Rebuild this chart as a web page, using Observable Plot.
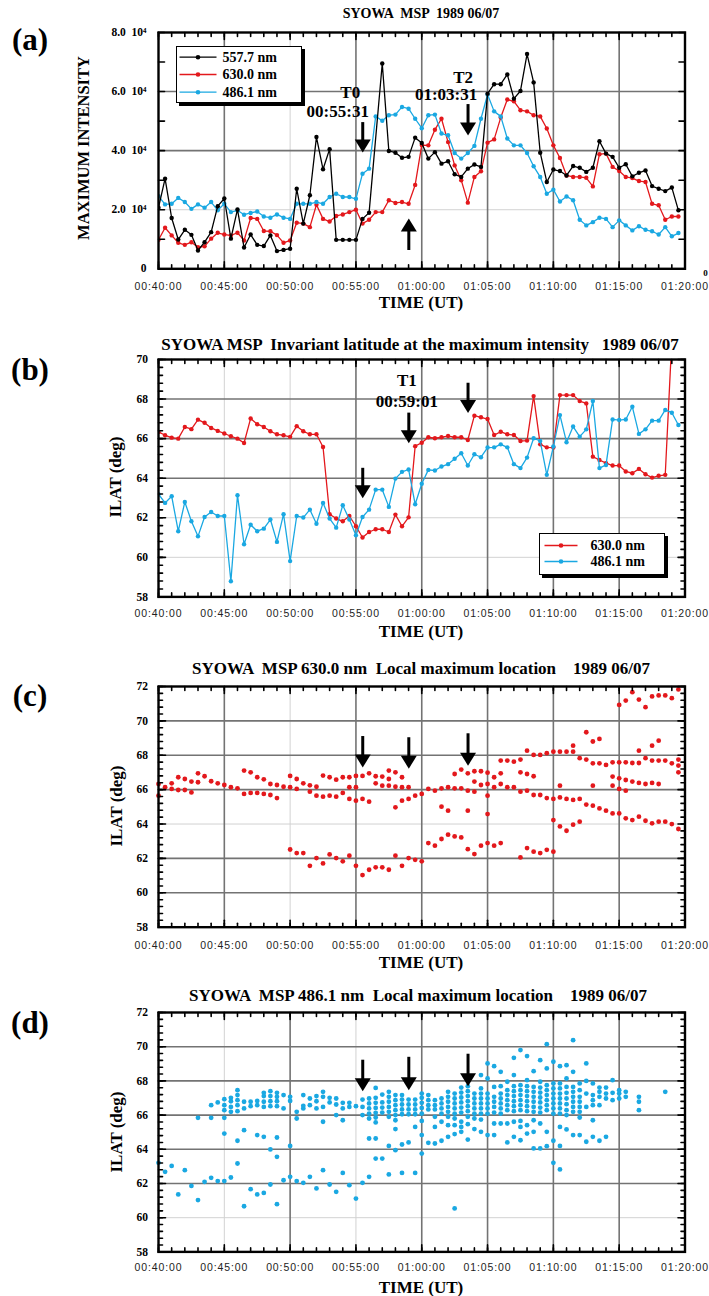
<!DOCTYPE html>
<html>
<head>
<meta charset="utf-8">
<script src="https://cdn.jsdelivr.net/npm/d3@7"></script>
<script src="https://cdn.jsdelivr.net/npm/@observablehq/plot@0.6"></script>
<style>
html,body{margin:0;padding:0;background:#fff;overflow:hidden;}
#root{position:relative;width:709px;height:1296px;overflow:hidden;background:#fff;}
.panel{position:absolute;left:0;}
.panel svg{background:transparent !important;overflow:visible;}
.t{position:absolute;transform:translate(-50%,-50%);white-space:pre;font-family:"Liberation Serif","Times New Roman",serif;font-weight:bold;color:#000;line-height:1;}
.rot{transform:translate(-50%,-50%) rotate(-90deg);}
g[aria-label="x-axis tick label"] text{font-family:"Liberation Sans",Arial,sans-serif;font-size:10.5px;letter-spacing:0.9px;fill:#222;font-weight:normal;}
g[aria-label="y-axis tick label"] text{font-family:"Liberation Serif","Times New Roman",serif;font-weight:bold;font-size:11.5px;fill:#000;}
.legend{position:absolute;box-sizing:border-box;background:#fff;border:1.5px solid #000;box-shadow:3px 3px 0 #000;}
</style>
</head>
<body>
<div id="root"></div>
<script>
// ---------------- DATA ----------------
// MSP scans every 30 s starting at 00:40:00 UT, 1989-06-07 (Syowa)
const scanStart = "00:40:00";
const scanCadenceSec = 30;

// (a) maximum intensity per scan (null = no marker visible)
const i5577 = [20700,30500,17200,9900,13200,11500,6200,9000,12400,21200,
  23800,10200,20100,7200,11600,8100,7700,11300,6000,6400,
  6800,27100,15300,24900,44600,33700,40500,9800,9800,9800,
  9800,16900,19000,null,69500,39900,39300,37600,37900,44400,
  42600,37300,39500,35600,36400,32000,31100,33900,35300,34500,
  59300,62500,62500,65800,57600,60200,72700,63100,39300,29400,
  33600,33100,31600,34800,34200,32800,34200,43200,39000,37900,
  34200,35400,31300,32500,33300,28000,27100,26300,27500,19800];
const i6300 = [9800,13900,11300,8800,8100,9000,7300,7600,10200,12200,
  11600,11300,12200,9600,17200,16900,12800,12700,11400,8800,
  9600,15600,15300,14100,21700,16900,16000,17900,18400,19200,
  20000,15300,16600,19200,19200,23200,22300,22600,22000,28400,
  41900,41800,47100,50800,42900,35000,30000,22400,31100,33000,
  42700,43800,51200,57300,56700,53700,53300,52000,51600,47500,
  41800,37500,31600,31100,31100,30800,27900,38800,39000,34500,
  33100,31100,30700,29700,29400,22000,21500,16600,17700,17700];
const i4861 = [24600,21800,22000,24000,22600,20300,21800,20700,22600,19800,
  22000,19200,19800,18300,18900,19400,17700,17300,18400,17300,
  16900,22000,22000,22000,22600,22000,24300,25400,24300,24300,
  23700,32200,33900,51600,50100,52000,52200,54800,54200,50800,
  47600,52000,52200,45800,45200,39200,37300,39200,41600,50800,
  59000,53300,51600,44100,41800,41800,39200,34700,31100,25400,
  26800,22800,24500,23200,16600,14700,15800,17300,16900,14100,
  16400,14700,13000,14400,13200,12700,11600,14100,11000,12100];

// (b) invariant latitude (deg) at the maximum intensity
const lat6300 = [66.34,66.17,66.05,66.00,66.59,66.48,66.96,66.80,66.54,66.39,
  66.26,66.12,66.00,65.78,67.02,66.73,66.59,66.37,66.22,66.17,
  66.09,66.63,66.37,66.22,66.22,65.58,62.18,61.96,61.82,62.09,
  61.57,61.00,61.28,61.42,61.42,61.28,62.16,61.57,62.02,65.62,
  65.79,66.07,66.02,66.07,66.13,66.07,66.07,65.93,67.16,67.08,
  66.99,66.18,66.35,66.22,66.18,65.88,65.90,68.15,65.71,65.56,
  65.55,68.20,68.20,68.20,67.90,67.78,65.09,64.92,64.76,64.64,
  64.64,64.34,64.25,64.47,64.20,64.03,64.12,64.17,71.0];
const lat4861 = [63.19,62.75,63.09,61.32,62.80,61.82,61.06,62.04,62.29,62.09,
  62.09,58.79,63.14,60.66,61.65,61.32,61.45,61.91,60.78,62.18,
  59.81,62.09,62.01,62.41,61.70,62.75,61.96,61.50,62.63,61.91,
  61.11,62.04,62.41,63.42,63.42,62.55,63.98,64.32,64.44,62.68,
  63.72,64.42,64.39,64.59,64.71,64.98,65.26,64.64,65.21,65.06,
  65.55,65.56,65.71,65.56,64.71,64.51,65.04,66.02,65.88,64.17,
  65.60,67.19,65.82,66.61,66.10,66.47,67.90,64.51,64.67,66.97,
  66.94,66.97,67.61,66.24,66.47,66.91,66.91,67.45,67.31,66.69];

// (c) 630.0 nm local maximum locations (ILAT deg), one list per scan
const loc6300 = [
  [66.33,65.65],[66.14],[66.37,66.04],[66.72,65.98],[66.62,65.98],[66.47,65.84],[66.95,66.43],[66.78],[66.49],[66.37],
  [66.27],[66.14],[66.08],[67.11,65.75],[67.01,65.81],[66.72,65.81],[66.60,65.75],[66.33,65.69],[66.27,65.51],[66.17],
  [66.80,66.14,62.52],[66.62,66.04,62.31],[66.37,62.31],[66.25,65.88,61.57],[66.17,65.65,62.02],[66.82,65.59,61.71],[66.72,65.65,62.23],[66.58,65.59,62.02],[66.72,65.81,61.83],[66.72,66.14,65.46,62.16],
  [66.80,66.14,65.36,61.57],[66.80,65.46,61.03],[66.95,65.30,61.34],[66.78,66.37,61.48],[66.76,66.23,61.48],[67.11,66.62,66.23,61.34],[67.01,66.17,64.97,62.16],[66.72,66.14,65.36,61.57],[66.14,65.46,62.02],[65.65,61.92],
  [65.75,61.83],[66.04,62.89],[65.94,62.74],[66.08,65.01,63.13],[66.14,64.78,63.38],[66.91,66.08,63.28],[67.17,66.08,63.22],[66.95,65.94,64.78,62.54],[67.07,66.47,65.88,62.25],[67.07,66.27,62.74],
  [66.99,66.33,65.65,64.58,62.89],[66.72,66.14,62.74],[67.69,66.95,66.33,62.89],[67.69,66.14],[67.63,66.14],[67.75,67.01,65.88,62.06],[68.27,66.91,65.94,62.60],[68.02,66.78,65.69,62.39],[68.02,65.69,62.31],[68.12,65.51,62.50],
  [68.21,65.46,64.23,62.39],[68.21,66.23,65.55,63.86],[68.21,65.46,63.61],[68.56,68.21,65.40,63.96],[67.83,65.46,64.14],[69.34,67.75,65.13],[68.80,67.53,66.23,65.07],[68.95,67.53,64.91],[67.44,64.78],[67.59,66.76,66.23,64.62],
  [70.93,67.59,66.66,66.04,64.62],[71.18,67.59,66.56,65.94,64.33],[71.67,67.55,66.47,64.23],[71.24,68.27,67.55,66.39,64.43],[70.80,67.83,66.33,64.19],[71.42,68.56,67.69,66.39,64.04],[71.48,68.85,67.69,66.33,64.14],[71.48,67.69,64.14],[71.32,67.53,64.00],[71.83,67.75,67.40,67.01,63.71]
];

// (d) 486.1 nm local maximum locations (ILAT deg), one list per scan
const loc4861 = [
  [63.21],[62.68],[63.03],[61.36],[62.78],[61.86],[61.03,65.84],[62.10],[62.33,65.84,66.58],[62.14,66.74],
  [62.14,64.92,65.84,66.29,66.58,66.93],[62.35,66.19,66.48,66.81,67.01],[63.17,64.50,66.23,66.58,66.87,67.17,67.46],[60.67,65.12,66.39,66.78],[61.67,66.52,66.78],[61.36,64.83,66.58,66.83],[61.45,64.73,66.48,66.78,67.11,67.30],[61.94,63.99,66.52,66.81,67.11,67.40],[60.79,63.56,64.69,66.52,66.81,67.07,67.30],[62.19,66.39,67.17],
  [62.39,64.20,66.83,67.07],[62.14,65.80,66.19],[62.04,66.39,66.54,67.17],[62.39,66.58,66.97],[61.71,66.39,66.81,67.11],[62.78,65.61,66.48,67.07,67.36],[61.94,66.74,67.01],[61.51,66.00,66.62,66.97],[62.62,65.70,66.39,66.72],[61.90,66.48,66.72],
  [61.12,66.52],[62.04,66.00,66.48,66.91],[62.39,64.63,65.80,66.09,66.39,66.68,66.97],[63.46,64.63,65.57,65.86,66.13,66.42,66.72,67.01,67.59],[63.46,66.15,66.44,66.74,67.20],[62.53,64.20,65.90,66.19,66.48,66.78,67.07,67.36],[63.95,65.18,65.70,66.00,66.29,66.58,66.87,67.17],[62.62,64.28,66.05,66.33,66.62,66.91,67.17],[64.40,66.05,66.33,66.62,66.91],[62.62,65.31,66.05,66.33,66.62,66.91],
  [63.75,64.83,65.66,66.09,66.42,66.72,67.01,67.26],[64.38,66.33,66.58,66.87,67.17],[64.34,65.31,65.90,66.33,66.58,66.87],[64.50,65.61,66.09,66.39,66.68,66.97],[64.73,65.41,65.90,66.19,66.48,66.78,67.07,67.36],[60.54,64.89,65.41,65.80,66.09,66.39,66.68,66.97,67.26],[65.02,65.31,65.61,66.15,66.44,66.74,67.03,67.32,67.61],[64.57,65.47,65.90,66.23,66.52,66.81,67.11,67.40,67.69],[65.18,65.80,66.09,66.39,66.68,66.97,67.26],[65.02,65.74,66.09,66.39,66.68,66.97,67.26,67.56,68.34],
  [64.83,66.09,66.39,66.68,66.97,67.26,68.14,69.02],[64.83,65.51,66.15,66.48,66.78,67.07,67.65,68.86],[65.51,66.09,66.39,66.68,66.97,67.26,67.69,68.53],[64.40,65.51,66.29,66.58,66.87,67.17,67.46,67.95],[64.73,65.61,66.23,66.52,66.81,67.11,67.40,67.69,68.34,69.35],[64.53,65.31,65.66,66.29,66.58,66.87,67.17,67.46,67.75,69.80],[64.92,65.41,66.23,66.52,66.81,67.11,67.40,67.69,68.04,69.45],[64.05,65.02,65.70,66.19,66.48,66.78,67.07,67.36,67.65,68.57],[64.05,65.51,66.15,66.44,66.74,67.03,67.32,67.61,67.95,69.21],[64.18,65.02,66.29,66.58,66.87,67.17,67.46,67.75,68.73,70.15],
  [63.21,64.50,66.09,66.39,66.68,66.97,67.26,67.56,67.85,69.12],[62.82,64.20,65.31,66.09,66.39,66.68,66.97,67.26,67.56,67.85,68.86],[65.16,66.00,66.29,66.64,66.97,67.30,67.65,68.14,68.92],[64.83,66.19,66.48,66.78,67.07,67.36,67.65,68.53,70.38],[64.83,65.86,66.19,66.48,66.78,67.07,67.46,67.85],[64.44,66.48,67.26,68.00,69.02],[64.73,65.70,66.58,66.87,67.17,67.85],[64.50,66.58,67.07,67.36,67.61],[64.73,66.97,67.26,67.61],[66.87,67.30,68.04],
  [66.97,67.26,67.46],[67.07,67.36],[],[66.29,66.78,67.07],[],[],[],[67.36]
];

// event times marked with arrows
const events = {T0: "00:55:31", T1: "00:59:01", T2: "01:03:31"};

// axis ticks
const timeTickLabels = ["00:40:00","00:45:00","00:50:00","00:55:00","01:00:00","01:05:00","01:10:00","01:15:00","01:20:00"];
const intensityTicks = [0, 20000, 40000, 60000, 80000];
const latTicksB = [58, 60, 62, 64, 66, 68, 70];
const latTicksCD = [58, 60, 62, 64, 66, 68, 70, 72];

const wavelengths = ["557.7 nm", "630.0 nm", "486.1 nm"];

// ---------------- HELPERS ----------------
const SERIF = '"Liberation Serif","Times New Roman",serif';
const RED = "#e3181c", BLUE = "#1aa8e2", BLACK = "#000";
const hms = s => { const [h, m, x] = s.split(":").map(Number); return new Date(Date.UTC(1989, 5, 7, h, m, x)); };
const t0 = hms(scanStart);
const scanTime = k => new Date(+t0 + k * scanCadenceSec * 1000);
const fmt = d3.utcFormat("%H:%M:%S");
const majorTimes = timeTickLabels.map(hms);
const xDomain = [majorTimes[0], majorTimes[majorTimes.length - 1]];
const minorTimes = d3.utcMinute.range(xDomain[0], new Date(+xDomain[1] + 1000));

const series = arr => arr.map((v, k) => ({t: scanTime(k), v})).filter(d => d.v != null);
const cloud = cols => cols.flatMap((col, k) => col.map(v => ({t: scanTime(k), v})));

const tickShape = {draw(ctx, l) { ctx.moveTo(0, 0); ctx.lineTo(0, -l); }};
function edgeTicks(xMaj, xMin, yMaj, yMin, yMajLen = 7, yMinLen = 4) {
  const o = {stroke: "#000", strokeWidth: 1.6, anchor: "start", shape: tickShape};
  const m = [];
  for (const [vals, len] of [[xMin, 4], [xMaj, 7]]) {
    m.push(Plot.vector(vals, {...o, x: d => d, frameAnchor: "bottom", length: len, rotate: 0}));
    m.push(Plot.vector(vals, {...o, x: d => d, frameAnchor: "top", length: len, rotate: 180}));
  }
  for (const [vals, len] of [[yMin, yMinLen], [yMaj, yMajLen]]) {
    m.push(Plot.vector(vals, {...o, y: d => d, frameAnchor: "left", length: len, rotate: 90}));
    m.push(Plot.vector(vals, {...o, y: d => d, frameAnchor: "right", length: len, rotate: -90}));
  }
  return m;
}

const headDown = {draw(ctx) { ctx.moveTo(0, 0); ctx.lineTo(-8, -13); ctx.lineTo(8, -13); ctx.closePath(); }};
const headUp = {draw(ctx) { ctx.moveTo(0, 0); ctx.lineTo(-8, 13); ctx.lineTo(8, 13); ctx.closePath(); }};
function arrowMarks(list) {
  const xs = d => hms(events[d.ev]);
  const down = list.filter(d => d.to < d.from), up = list.filter(d => d.to > d.from);
  return [
    Plot.ruleX(down, {x: xs, y1: "from", y2: "to", stroke: "#000", strokeWidth: 3, insetBottom: 7}),
    Plot.ruleX(up, {x: xs, y1: "to", y2: "from", stroke: "#000", strokeWidth: 3, insetTop: 7}),
    Plot.dot(down, {x: xs, y: "to", symbol: headDown, fill: "#000", r: 4}),
    Plot.dot(up, {x: xs, y: "to", symbol: headUp, fill: "#000", r: 4})
  ];
}
function note(ev, text, y, dx) {
  return Plot.text([text], {x: () => hms(events[ev]), y: () => y, text: d => d, dx,
    fontSize: 17, fontWeight: "bold", fontFamily: SERIF, fill: "#000"});
}
function lineDots(arr, color, r = 2.2) {
  return [
    Plot.line(arr, {x: "t", y: "v", stroke: color, strokeWidth: 1.3, clip: true}),
    Plot.dot(arr, {x: "t", y: "v", fill: color, r, clip: true})
  ];
}

const root = document.getElementById("root");
function addPanel(cfg) {
  const {frameTop, frameBottom, yDomain, yMajor, yMinor, yFormat, yPad, xPad, lightX, lightY, marks, yMajLen, yMinLen} = cfg;
  const mt = 12, mb = 48;
  const fh = frameBottom - frameTop;
  const innerX = majorTimes.slice(1, -1), innerY = yMajor.slice(1, -1);
  const lx = innerX.filter(d => lightX.includes(fmt(d))), dxs = innerX.filter(d => !lightX.includes(fmt(d)));
  const ly = innerY.filter(d => lightY.includes(d)), dys = innerY.filter(d => !lightY.includes(d));
  const chart = Plot.plot({
    width: 709, height: mt + fh + mb,
    marginLeft: 158, marginRight: 24.5, marginTop: mt, marginBottom: mb,
    style: {background: "transparent", overflow: "visible"},
    x: {type: "utc", domain: xDomain},
    y: {domain: yDomain},
    marks: [
      Plot.ruleX(lx, {x: d => d, stroke: "#d2d2d2", strokeWidth: 1}),
      Plot.ruleY(ly, {y: d => d, stroke: "#d2d2d2", strokeWidth: 1}),
      Plot.ruleX(dxs, {x: d => d, stroke: "#737373", strokeWidth: 1.6}),
      Plot.ruleY(dys, {y: d => d, stroke: "#737373", strokeWidth: 1.6}),
      ...marks,
      Plot.frame({stroke: "#000", strokeWidth: 2.4}),
      ...edgeTicks(majorTimes, minorTimes, yMajor, yMinor, yMajLen, yMinLen),
      Plot.axisX({ticks: majorTimes, tickFormat: fmt, tickSize: 0, tickPadding: xPad, label: null}),
      Plot.axisY({ticks: yMajor, tickFormat: yFormat, tickSize: 0, tickPadding: yPad, label: null}),
      ...(cfg.overlay || [])
    ]
  });
  const div = document.createElement("div");
  div.className = "panel";
  div.style.top = (frameTop - mt) + "px";
  div.append(chart);
  root.append(div);
}
const latMinor = lo => hi => d3.range(0, Math.round((hi - lo) / 0.4) + 1).map(i => lo + i * 0.4);

// ---------------- PANEL (a) ----------------
addPanel({
  frameTop: 32, frameBottom: 268.3, yDomain: [0, 80000],
  yMajor: intensityTicks, yMinor: [10000, 30000, 50000, 70000], yMajLen: 6, yMinLen: 6,
  yFormat: d => d === 0 ? "0" : `${(d / 1e4).toFixed(1)}\u00a0\u00a010\u2074`,
  yPad: 12, xPad: 13.5, lightX: ["00:50:00"], lightY: [20000],
  marks: [...lineDots(series(i6300), RED), ...lineDots(series(i4861), BLUE), ...lineDots(series(i5577), BLACK)],
  overlay: [
    ...arrowMarks([{ev: "T0", from: 49500, to: 39400}, {ev: "T1", from: 6200, to: 17000}, {ev: "T2", from: 55600, to: 45100}]),
    note("T0", "T0", 59800, -12.5), note("T0", events.T0, 53200, -25),
    note("T2", "T2", 64700, -5), note("T2", events.T2, 59000, -22)
  ]
});

// ---------------- PANEL (b) ----------------
addPanel({
  frameTop: 359.3, frameBottom: 596.7, yDomain: [58, 70],
  yMajor: latTicksB, yMinor: latMinor(58)(70),
  yFormat: d => String(d), yPad: 10.5, xPad: 12.5, lightX: ["00:45:00", "00:50:00"], lightY: [60, 62],
  marks: [...lineDots(series(lat6300), RED), ...lineDots(series(lat4861), BLUE)],
  overlay: [
    ...arrowMarks([{ev: "T0", from: 64.5, to: 62.99}, {ev: "T1", from: 67.29, to: 65.77}, {ev: "T2", from: 68.8, to: 67.29}]),
    note("T1", "T1", 68.95, -2), note("T1", events.T1, 67.89, -2)
  ]
});

// ---------------- PANEL (c) ----------------
addPanel({
  frameTop: 686, frameBottom: 926.7, yDomain: [58, 72],
  yMajor: latTicksCD, yMinor: latMinor(58)(72),
  yFormat: d => String(d), yPad: 10.5, xPad: 14, lightX: ["00:50:00"], lightY: [64],
  marks: [Plot.dot(cloud(loc6300), {x: "t", y: "v", fill: RED, r: 2.4})],
  overlay: arrowMarks([{ev: "T0", from: 69.09, to: 67.29}, {ev: "T1", from: 69.02, to: 67.22}, {ev: "T2", from: 69.25, to: 67.39}])
});

// ---------------- PANEL (d) ----------------
addPanel({
  frameTop: 1012.3, frameBottom: 1251.7, yDomain: [58, 72],
  yMajor: latTicksCD, yMinor: latMinor(58)(72),
  yFormat: d => String(d), yPad: 10.5, xPad: 11.5, lightX: ["00:45:00", "00:55:00"], lightY: [60],
  marks: [Plot.dot(cloud(loc4861), {x: "t", y: "v", fill: BLUE, r: 2.4})],
  overlay: arrowMarks([{ev: "T0", from: 69.21, to: 67.39}, {ev: "T1", from: 69.38, to: 67.45}, {ev: "T2", from: 69.56, to: 67.69}])
});

// ---------------- TEXT ----------------
function txt(s, x, y, size, rot = false) {
  const el = document.createElement("div");
  el.className = "t" + (rot ? " rot" : "");
  el.textContent = s;
  el.style.left = x + "px"; el.style.top = y + "px"; el.style.fontSize = size + "px";
  root.append(el);
  return el;
}
txt("(a)", 30, 39, 31); txt("(b)", 30, 369, 31); txt("(c)", 30, 695, 31); txt("(d)", 30, 1022, 31);
txt("SYOWA  MSP  1989 06/07", 421, 14, 14);
txt("SYOWA MSP  Invariant latitude at the maximum intensity   1989 06/07", 420, 344, 17);
txt("SYOWA  MSP 630.0 nm  Local maximum location    1989 06/07", 421, 668, 17);
txt("SYOWA  MSP 486.1 nm  Local maximum location    1989 06/07", 418, 995, 17);
txt("MAXIMUM INTENSITY", 84, 148, 16.5, true);
txt("ILAT (deg)", 115, 477, 17, true);
txt("ILAT (deg)", 116, 806, 17, true);
txt("ILAT (deg)", 116, 1132, 17, true);
for (const y of [302, 631, 962, 1287]) txt("TIME (UT)", 421, y, 17);
txt("0", 705.5, 273, 9);

// ---------------- LEGENDS ----------------
function legend(left, top, w, h, items, rowYs, lx1, lx2, tx, fs) {
  const div = document.createElement("div");
  div.className = "legend";
  div.style.cssText = `left:${left}px;top:${top}px;width:${w}px;height:${h}px;`;
  const svg = d3.create("svg").attr("width", w - 3).attr("height", h - 3).style("display", "block");
  items.forEach((it, i) => {
    const y = rowYs[i];
    svg.append("line").attr("x1", lx1).attr("x2", lx2).attr("y1", y).attr("y2", y).attr("stroke", it.color).attr("stroke-width", 1.3);
    svg.append("circle").attr("cx", (lx1 + lx2) / 2).attr("cy", y).attr("r", 2.3).attr("fill", it.color);
    svg.append("text").attr("x", tx).attr("y", y).attr("dy", "0.35em").attr("font-family", SERIF)
      .attr("font-weight", "bold").attr("font-size", fs).attr("fill", "#000").text(it.label);
  });
  div.append(svg.node());
  root.append(div);
}
legend(176, 46, 126, 57, [{label: wavelengths[0], color: BLACK}, {label: wavelengths[1], color: RED}, {label: wavelengths[2], color: BLUE}],
  [10.2, 27.5, 45.2], 2.5, 39.5, 45.5, 14);
legend(539, 533, 126, 42, [{label: wavelengths[1], color: RED}, {label: wavelengths[2], color: BLUE}],
  [11.5, 27.5], 4.5, 37.5, 50.5, 14);
</script>
</body>
</html>
